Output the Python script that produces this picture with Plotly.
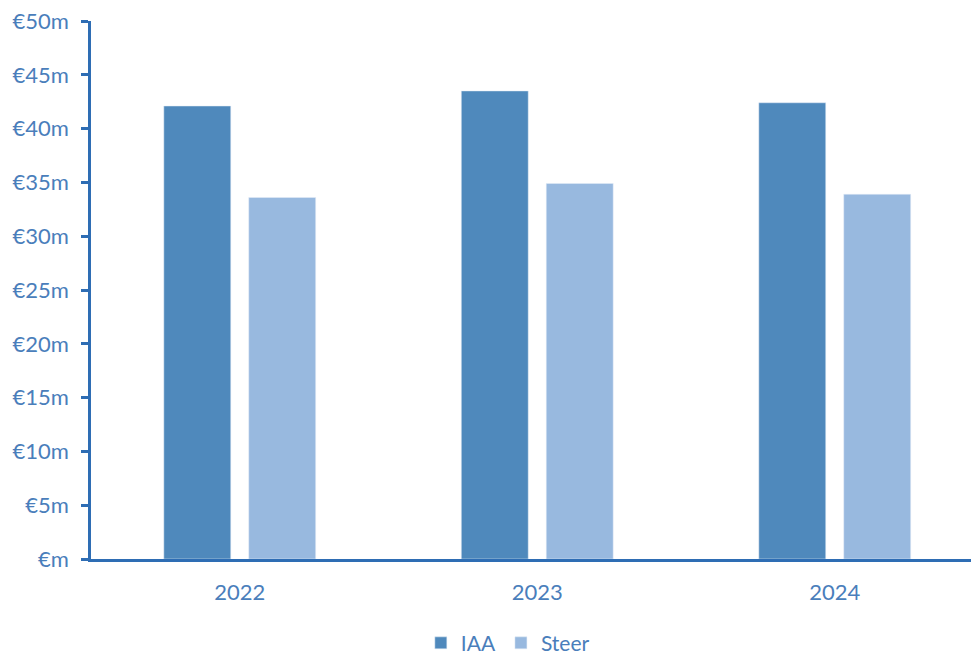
import plotly.graph_objects as go

years = ["2022", "2023", "2024"]
iaa = [42.1, 43.5, 42.4]
steer = [33.6, 34.9, 33.9]
tick_vals = [0, 5, 10, 15, 20, 25, 30, 35, 40, 45, 50]
tick_text = ["€m", "€5m", "€10m", "€15m", "€20m", "€25m", "€30m", "€35m", "€40m", "€45m", "€50m"]

txt = "#4A7EBB"
axc = "#2E6DB4"

fig = go.Figure()
fig.add_trace(go.Bar(name="IAA", x=years, y=iaa, marker_color="#4F89BC"))
fig.add_trace(go.Bar(name="Steer", x=years, y=steer, marker_color="#98B9DF"))

fig.update_layout(
    width=971, height=657,
    margin=dict(l=91, r=0, t=21, b=98, autoexpand=False),
    paper_bgcolor="white", plot_bgcolor="white",
    barmode="group", bargap=0.429, bargroupgap=0.212,
    font=dict(family="Lato, Calibri, sans-serif", size=22, color=txt),
    showlegend=True,
    legend=dict(orientation="h", x=0.523, xanchor="center", xref="container",
                y=0.021, yanchor="middle", yref="container",
                font=dict(size=21, color=txt)),
    xaxis=dict(range=[-0.5, 2.458], showline=True, linecolor=axc, linewidth=2.5,
               ticks="", showgrid=False, ticklabelstandoff=12,
               tickfont=dict(size=22, color=txt)),
    yaxis=dict(range=[0, 50], tickvals=tick_vals, ticktext=tick_text, showline=True,
               linecolor=axc, linewidth=2.5, ticks="outside", ticklen=7, tickwidth=2.5,
               tickcolor=axc, showgrid=False, zeroline=False, ticklabelstandoff=8,
               tickfont=dict(size=22, color=txt)),
)
fig.write_html("out.html")
